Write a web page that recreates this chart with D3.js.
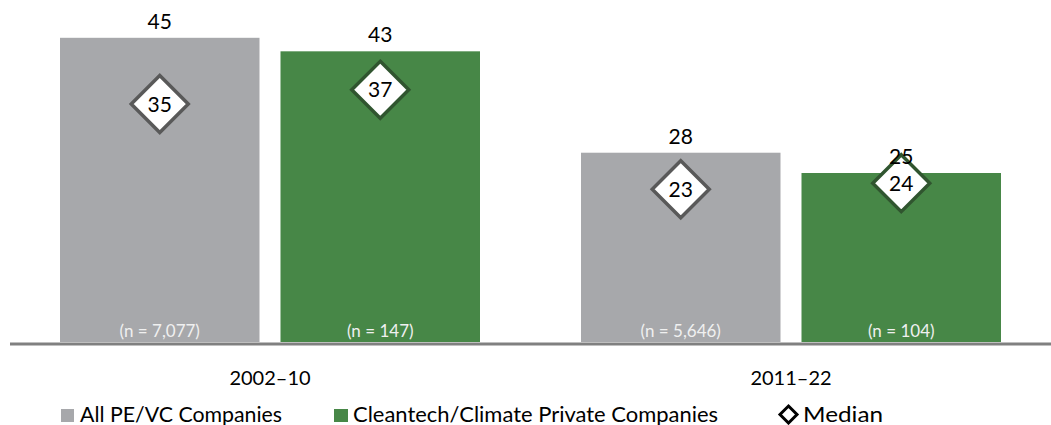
<!DOCTYPE html>
<html>
<head>
<meta charset="utf-8">
<script src="https://cdn.jsdelivr.net/npm/d3@7"></script>
<style>
  body { margin: 0; background: #fff; }
  svg text { font-family: Lato, "Open Sans", sans-serif; }
</style>
</head>
<body>
<svg width="1051" height="425"></svg>
<script>
var periods = ["2002–10", "2011–22"];
var series = ["All PE/VC Companies", "Cleantech/Climate Private Companies"];
var averages = [[45, 43], [28, 25]];
// medians as placed in the picture; labels are the rounded values
var medians = [[35.2, 37.3], [22.6, 23.5]];
var counts = [["7,077", "147"], ["5,646", "104"]];

var colors = ["#a7a8ab", "#478747"];
var outlines = ["#595959", "#30552f"];

var svg = d3.select("svg");
var baseY = 342;

var x0 = d3.scaleBand().domain(periods).range([60, 1001]).paddingInner(101 / 521);
var x1 = d3.scaleBand().domain(series).range([0, x0.bandwidth()]).paddingInner(20 / 210);
var y = d3.scaleLinear().domain([0, 50]).range([baseY, baseY - 338]);

var rows = [];
periods.forEach(function(p, i) {
  series.forEach(function(s, j) {
    rows.push({period: p, series: s, j: j, val: averages[i][j], med: medians[i][j], n: counts[i][j]});
  });
});

var bar = svg.selectAll("g.bar")
  .data(rows)
  .enter()
  .append("g")
  .attr("class", "bar")
  .attr("transform", function(d) { return "translate(" + (x0(d.period) + x1(d.series)) + ",0)"; });

bar.append("rect")
  .attr("x", 0)
  .attr("y", function(d) { return y(d.val); })
  .attr("width", x1.bandwidth())
  .attr("height", function(d) { return baseY - y(d.val); })
  .style("fill", function(d) { return colors[d.j]; });

bar.append("text")
  .attr("x", x1.bandwidth() / 2)
  .attr("y", baseY - 5)
  .attr("text-anchor", "middle")
  .style("font-size", "17px")
  .style("fill", "#f0f0f0")
  .text(function(d) { return "(n = " + d.n + ")"; });

var r = 28.5;
bar.append("path")
  .attr("d", function(d) {
    var cx = x1.bandwidth() / 2, cy = y(d.med);
    return "M" + cx + "," + (cy - r) + "L" + (cx + r) + "," + cy + "L" + cx + "," + (cy + r) + "L" + (cx - r) + "," + cy + "Z";
  })
  .style("fill", "#fff")
  .style("stroke", function(d) { return outlines[d.j]; })
  .style("stroke-width", 3.5);

bar.append("text")
  .attr("x", x1.bandwidth() / 2)
  .attr("y", function(d) { return y(d.med); })
  .attr("dy", "0.36em")
  .attr("text-anchor", "middle")
  .style("font-size", "21px")
  .style("fill", "#000")
  .text(function(d) { return Math.round(d.med); });

bar.append("text")
  .attr("x", x1.bandwidth() / 2)
  .attr("y", function(d) { return y(d.val) - 9; })
  .attr("text-anchor", "middle")
  .style("font-size", "21px")
  .style("fill", "#000")
  .text(function(d) { return d.val; });

// axis line
svg.append("line")
  .attr("x1", 10).attr("x2", 1051)
  .attr("y1", baseY + 2).attr("y2", baseY + 2)
  .style("stroke", "#808080")
  .style("stroke-width", 3);

var xAxis = svg.append("g")
  .attr("transform", "translate(0," + baseY + ")")
  .call(d3.axisBottom(x0).tickSize(0).tickPadding(29));
xAxis.select(".domain").remove();
xAxis.selectAll("text")
  .style("font-family", "Lato, 'Open Sans', sans-serif")
  .style("font-size", "20px")
  .style("fill", "#000");

// legend
var legY = 422;
svg.append("rect").attr("x", 61).attr("y", legY - 13).attr("width", 13).attr("height", 13).style("fill", colors[0]);
svg.append("text").attr("x", 80).attr("y", legY)
  .attr("textLength", 202).attr("lengthAdjust", "spacingAndGlyphs")
  .style("font-size", "21px").text(series[0]);
svg.append("rect").attr("x", 334).attr("y", legY - 13).attr("width", 14).attr("height", 13).style("fill", colors[1]);
svg.append("text").attr("x", 353).attr("y", legY)
  .attr("textLength", 365).attr("lengthAdjust", "spacingAndGlyphs")
  .style("font-size", "21px").text(series[1]);
svg.append("path")
  .attr("d", "M788.5," + (legY - 16) + "L797," + (legY - 7.5) + "L788.5," + (legY + 1) + "L780," + (legY - 7.5) + "Z")
  .style("fill", "#fff").style("stroke", "#000").style("stroke-width", 3);
svg.append("text").attr("x", 803).attr("y", legY)
  .attr("textLength", 80).attr("lengthAdjust", "spacingAndGlyphs")
  .style("font-size", "21px").text("Median");
</script>
</body>
</html>
